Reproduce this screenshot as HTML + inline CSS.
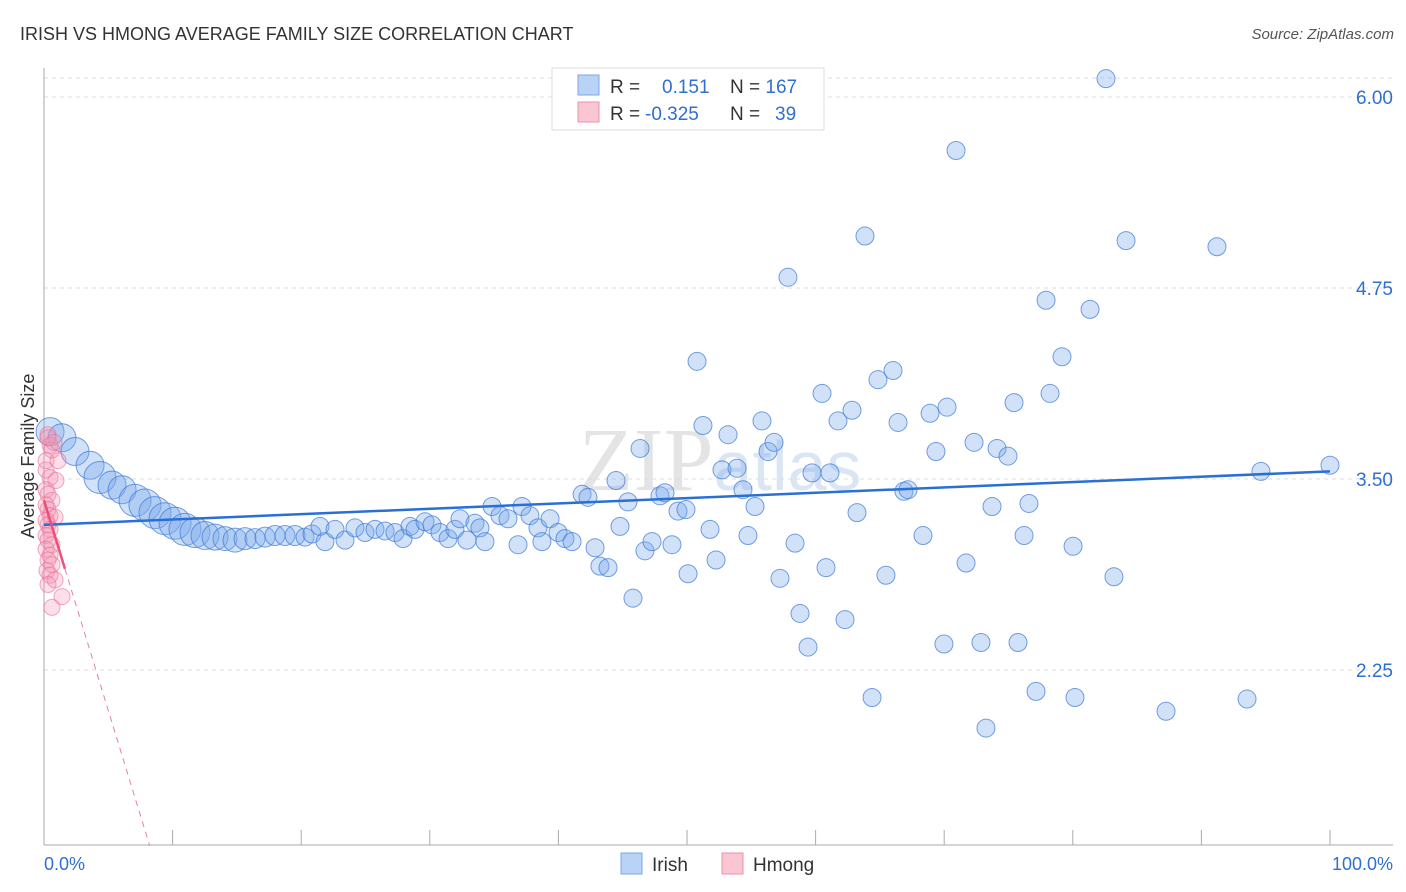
<!DOCTYPE html>
<html><head><meta charset="utf-8">
<style>
body{margin:0;background:#fff;font-family:"Liberation Sans",sans-serif;}
#wrap{position:relative;width:1406px;height:892px;overflow:hidden;}
</style></head>
<body>
<div id="wrap">
<svg id="chart" width="1406" height="892" xmlns="http://www.w3.org/2000/svg">
<text x="20" y="40" font-size="18" fill="#333">IRISH VS HMONG AVERAGE FAMILY SIZE CORRELATION CHART</text>
<text x="1394" y="39" font-size="15" fill="#555" font-style="italic" text-anchor="end">Source: ZipAtlas.com</text>
<text x="720" y="490" font-size="90" fill="#e4e4e4" text-anchor="middle" font-family="Liberation Serif">ZIP<tspan font-family="Liberation Sans" font-size="70" fill="#dbe6f4">atlas</tspan></text>
<text transform="translate(34,456) rotate(-90)" font-size="18" fill="#333" text-anchor="middle">Average Family Size</text>
<g id="grid"></g><g id="axes"></g><g id="pts"></g><g id="trends"></g>
<g>
<rect x="552" y="68" width="272" height="62" fill="#fff" stroke="#ddd"/>
<rect x="578" y="75" width="21" height="20" fill="#b8d3f5" stroke="#7aa8e6"/>
<rect x="578" y="102" width="21" height="20" fill="#f9c6d4" stroke="#ee8eaa"/>
<text x="610" y="93" font-size="19" fill="#333">R = <tspan x="662" fill="#2f6fd0">0.151</tspan><tspan x="730" fill="#333">N = </tspan><tspan fill="#2f6fd0">167</tspan></text>
<text x="610" y="120" font-size="19" fill="#333">R = <tspan x="645" fill="#2f6fd0">-0.325</tspan><tspan x="730" fill="#333">N = </tspan><tspan x="775" fill="#2f6fd0">39</tspan></text>
</g>
<g>
<rect x="621" y="853" width="21" height="21" fill="#b8d3f5" stroke="#7aa8e6"/>
<text x="652" y="871" font-size="19" fill="#333">Irish</text>
<rect x="722" y="853" width="21" height="21" fill="#f9c6d4" stroke="#ee8eaa"/>
<text x="753" y="871" font-size="19" fill="#333">Hmong</text>
</g>
<text x="44" y="870" font-size="18" fill="#2f6fd0">0.0%</text>
<text x="1393" y="870" font-size="18" fill="#2f6fd0" text-anchor="end">100.0%</text>
</svg>
</div>
<script>
const yTicks=[6.00,4.75,3.50,2.25];
const yTickLabels=["6.00","4.75","3.50","2.25"];
const xTicks=[10,20,30,40,50,60,70,80,90,100];
const irishX=[0.47,1.40,2.41,3.58,4.35,5.29,6.07,7.08,7.85,8.63,9.41,10.19,10.96,11.74,12.52,13.30,14.07,14.85,15.63,16.41,17.19,17.96,18.74,19.52,20.30,20.84,
21.46,21.85,22.63,23.41,24.18,24.96,25.74,26.52,27.29,27.92,28.46,28.85,29.63,30.17,30.79,31.42,31.96,32.35,32.89,33.51,33.90,34.29,34.84,35.46,36.08,36.86,37.17,37.79,38.41,38.72,39.35,39.97,40.51,41.06,41.84,42.30,42.85,43.23,43.86,44.48,44.79,45.41,45.80,46.35,46.73,47.28,47.90,48.29,48.83,49.30,49.92,50.08,50.78,51.24,51.79,52.26,52.72,53.19,53.89,54.35,54.74,55.29,55.83,56.30,56.77,57.23,57.85,58.40,58.79,59.41,59.72,60.50,60.81,61.12,61.74,62.29,62.83,63.22,63.84,64.39,64.85,65.47,66.02,66.41,66.87,67.19,68.35,68.90,69.36,69.98,70.22,70.92,71.70,72.32,72.86,73.25,73.72,74.11,74.96,75.43,75.74,76.21,76.59,77.14,77.92,78.23,79.16,80.02,80.17,81.34,82.58,83.20,84.14,87.25,91.21,93.55,94.63,100.00];
const irishY=[3.81,3.77,3.68,3.59,3.51,3.46,3.43,3.36,3.33,3.28,3.24,3.21,3.17,3.15,3.13,3.12,3.11,3.10,3.11,3.11,3.12,3.13,3.13,3.13,3.12,3.14,
3.19,3.09,3.17,3.10,3.18,3.15,3.17,3.16,3.15,3.11,3.19,3.17,3.22,3.20,3.15,3.11,3.17,3.24,3.10,3.21,3.18,3.09,3.32,3.26,3.24,3.07,3.32,3.26,3.18,3.09,3.24,3.15,3.11,3.09,3.40,3.38,3.05,2.93,2.92,3.49,3.19,3.35,2.72,3.70,3.03,3.09,3.39,3.41,3.07,3.29,3.30,2.88,4.27,3.85,3.17,2.97,3.56,3.79,3.57,3.43,3.13,3.32,3.88,3.68,3.74,2.85,4.82,3.08,2.62,2.40,3.54,4.06,2.92,3.54,3.88,2.58,3.95,3.28,5.09,2.07,4.15,2.87,4.21,3.87,3.42,3.43,3.13,3.93,3.68,2.42,3.97,5.65,2.95,3.74,2.43,1.87,3.32,3.70,3.65,4.00,2.43,3.13,3.34,2.11,4.67,4.06,4.30,3.06,2.07,4.61,6.12,2.86,5.06,1.98,5.02,2.06,3.55,3.59];
const irishSize=[14,14,14,14,16,14,14,16,16,16,16,16,16,15,14,13,12,12,11,10,10,10,10,10,9,9];
const hmongX=[0.31,0.47,0.62,0.16,0.47,0.93,0.16,0.31,0.62,0.16,0.31,0.47,0.86,0.16,0.31,0.47,0.16,0.31,0.62,0.16,0.47,0.31,0.62,0.23,0.47,0.86,0.31,1.40,0.62,0.16,1.09,0.31,0.78];
const hmongY=[3.79,3.72,3.69,3.56,3.51,3.49,3.43,3.40,3.36,3.33,3.30,3.26,3.25,3.23,3.20,3.17,3.13,3.10,3.07,3.04,3.00,2.97,2.94,2.90,2.87,2.84,2.81,2.73,2.66,3.62,3.62,3.77,3.74];
const irishTrend=[3.20,3.55];
const hmongTrend=[3.36,-0.275];
const NS="http://www.w3.org/2000/svg";
const X=p=>44+p*12.86, Y=v=>479-(v-3.5)*152.8;
function mk(tag,attrs,parent){const e=document.createElementNS(NS,tag);for(const k in attrs)e.setAttribute(k,attrs[k]);document.getElementById(parent).appendChild(e);return e;}
yTicks.forEach((t,i)=>{
 const l=mk('line',{x1:44,x2:1393,y1:Y(t),y2:Y(t),stroke:'#ddd','stroke-dasharray':'4,4'},'grid');
 
 
 const tx=mk('text',{x:1393,y:Y(t)+7,'font-size':19,fill:'#2f6fd0','text-anchor':'end'},'axes');
 tx.textContent=yTickLabels[i];
 
 
});
const tg=mk('line',{x1:44,x2:1393,y1:78,y2:78,stroke:'#ddd','stroke-dasharray':'4,4'},'grid');


const ya=mk('line',{x1:44,x2:44,y1:68,y2:845,stroke:'#aaa'},'axes');


const xa=mk('line',{x1:44,x2:1393,y1:845,y2:845,stroke:'#aaa'},'axes');


xTicks.forEach(t=>{const l=mk('line',{x1:X(t),x2:X(t),y1:830,y2:845,stroke:'#aaa'},'axes');
 
 });
irishX.forEach((x,i)=>{const c=mk('circle',{cx:X(x),cy:Y(irishY[i]),r:irishSize[i]||9,fill:'rgba(120,170,235,0.35)',stroke:'rgba(60,120,215,0.7)','stroke-width':1},'pts');
 
 });
hmongX.forEach((x,i)=>{const c=mk('circle',{cx:X(x),cy:Y(hmongY[i]),r:8,fill:'rgba(245,150,180,0.3)',stroke:'rgba(235,110,150,0.6)','stroke-width':1},'pts');
 
 });
const bt=mk('line',{x1:X(0),y1:Y(irishTrend[0]),x2:X(100),y2:Y(irishTrend[1]),stroke:'#2a6fd6','stroke-width':2.5},'trends');


const hv=p=>hmongTrend[0]+hmongTrend[1]*p;
const ps=mk('line',{x1:X(0),y1:Y(hv(0)),x2:X(1.63),y2:Y(hv(1.63)),stroke:'#e8507e','stroke-width':2.5},'trends');


const pEnd=(hmongTrend[0]-1.10)/(-hmongTrend[1]);
const pd=mk('line',{x1:X(1.63),y1:Y(hv(1.63)),x2:X(pEnd),y2:Y(hv(pEnd)),stroke:'#e8809e','stroke-width':1,'stroke-dasharray':'6,5'},'trends');


</script>
</body></html>
